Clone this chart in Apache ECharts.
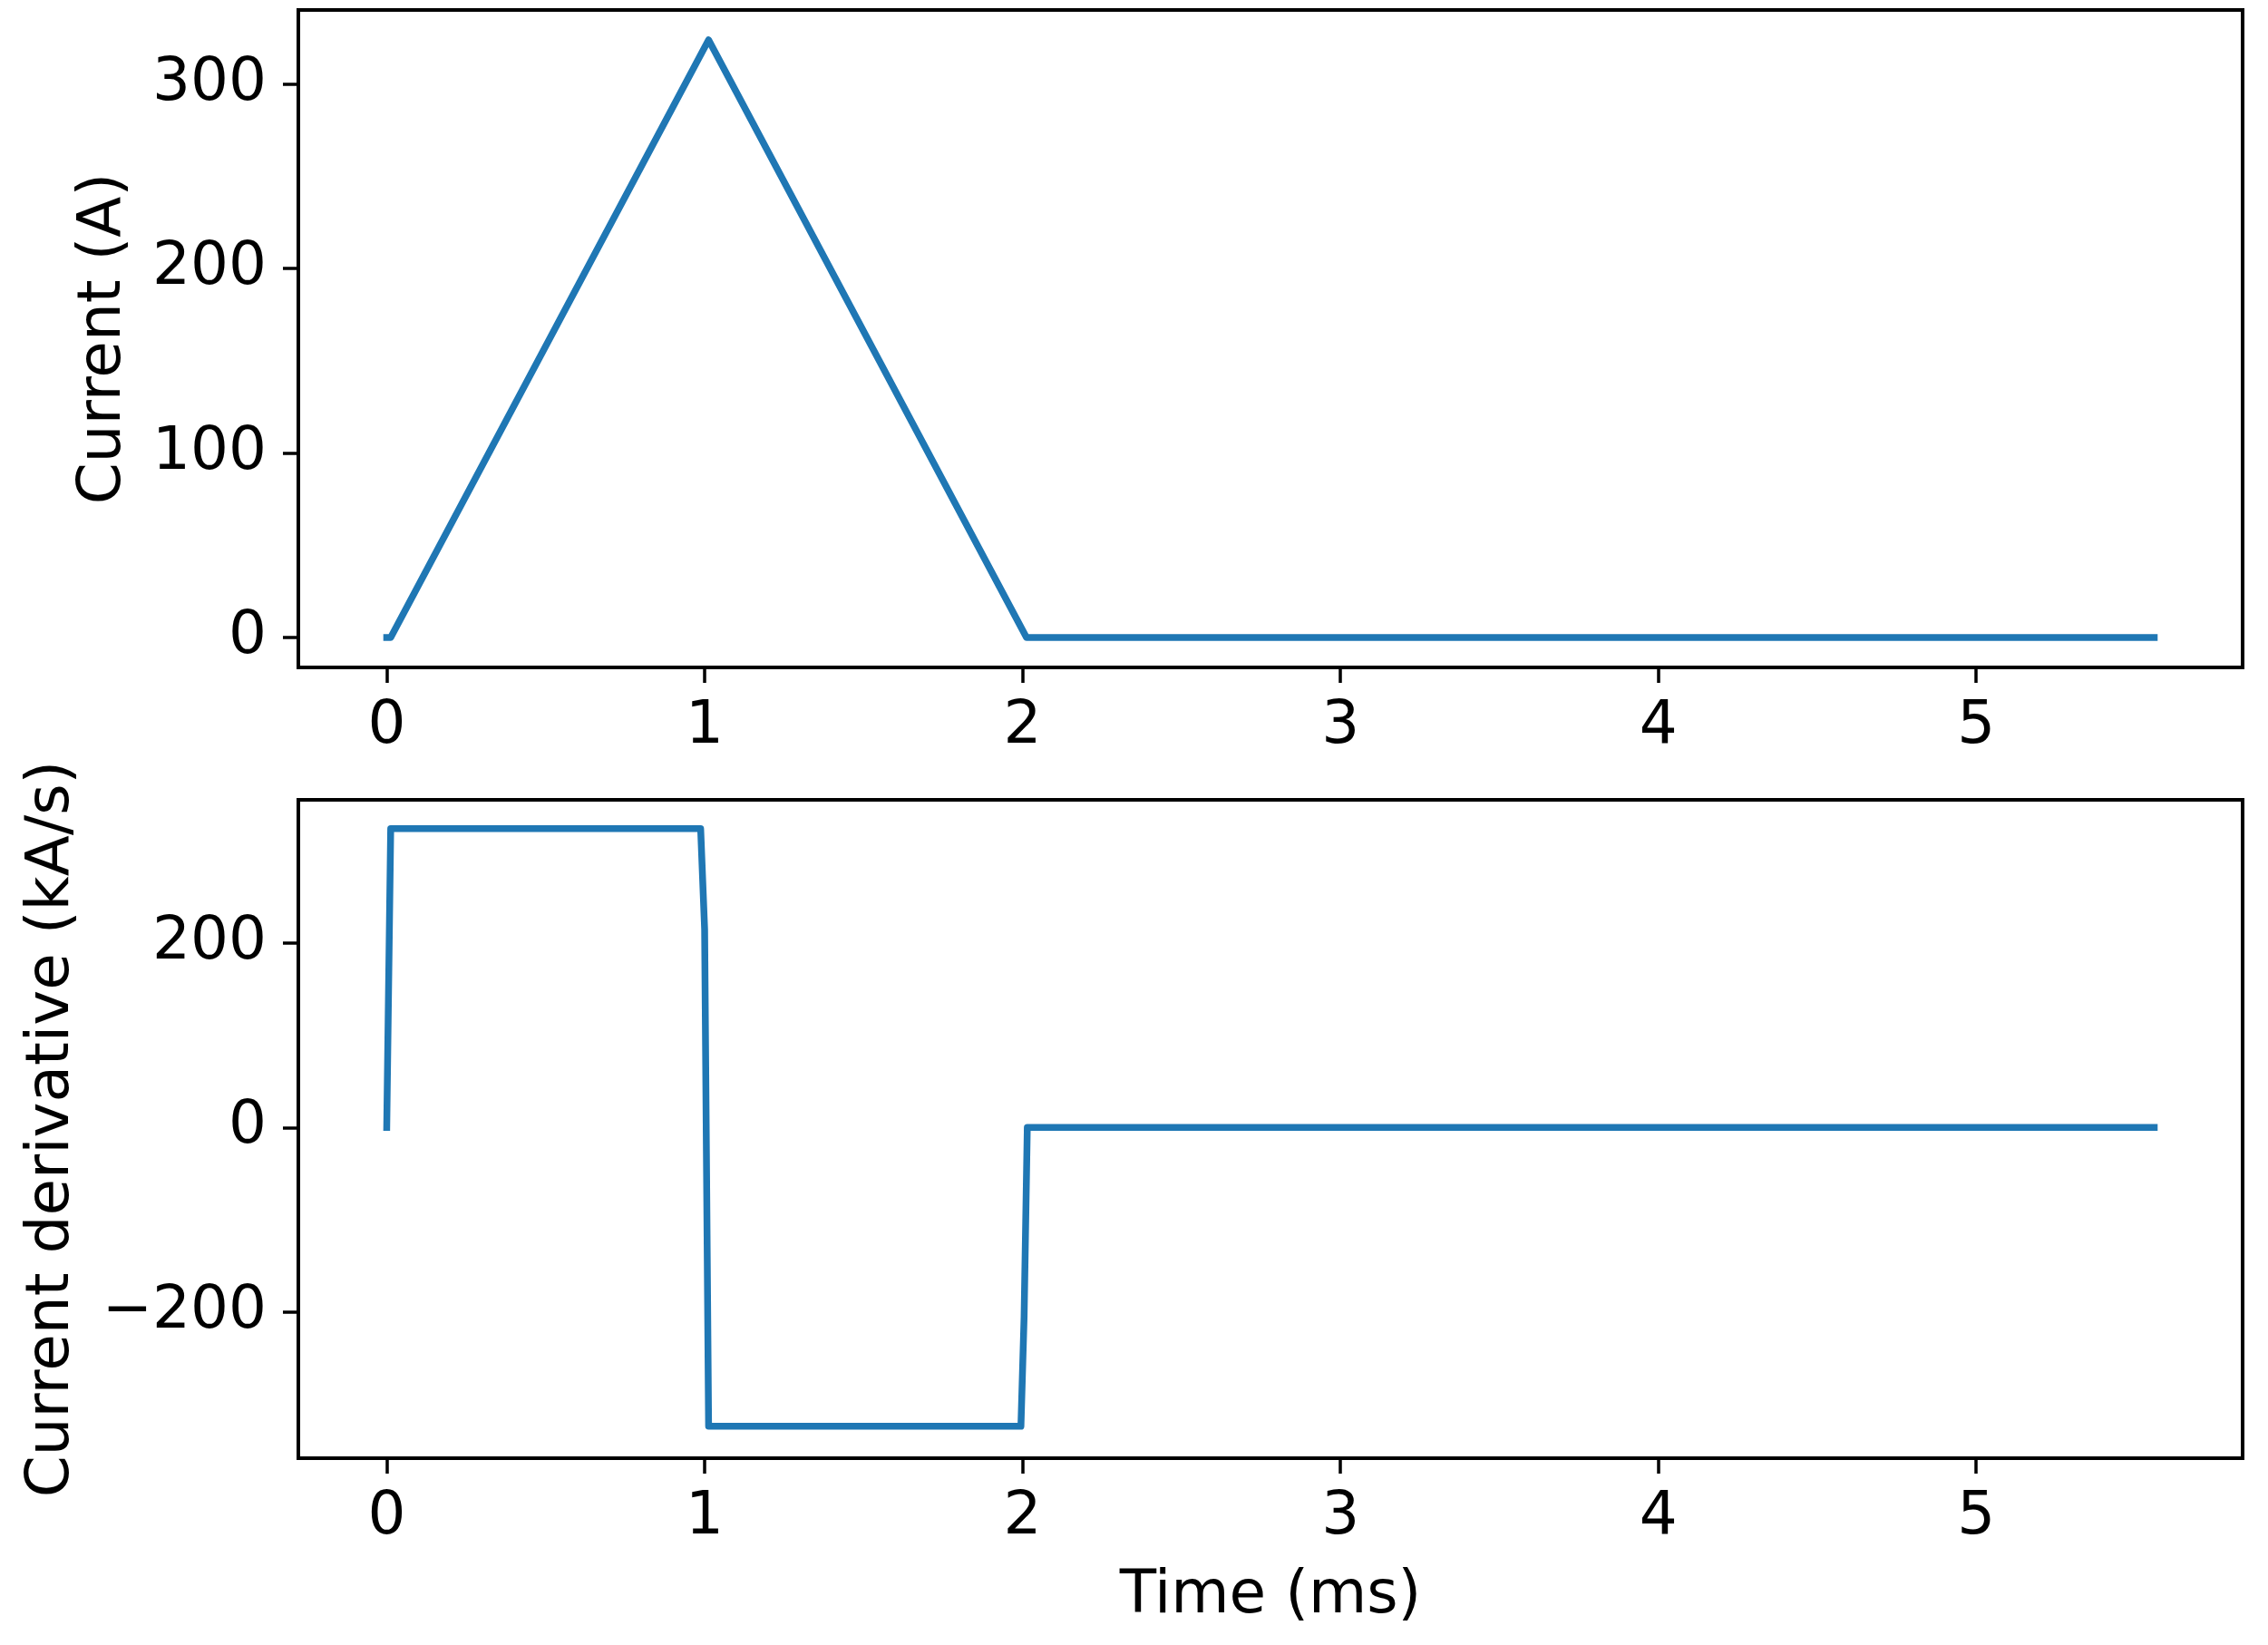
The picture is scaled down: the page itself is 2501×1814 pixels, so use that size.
<!DOCTYPE html>
<html>
<head>
<meta charset="utf-8">
<script src="https://cdn.jsdelivr.net/npm/echarts@6/dist/echarts.min.js"></script>
<style>
    html, body { margin: 0; padding: 0; background: #fff; }
    #chart { width: 2501px; height: 1814px; }
</style>
</head>
<body>
<div id="chart"></div>
<script>
    // current pulse (A) vs time (ms)
    var timeCurrent = [0, 0.0125, 1.0125, 2.0125, 5.56];
    var current = [0, 0, 324, 0, 0];

    // derivative (kA/s) vs time (ms)
    var timeDeriv = [0, 0.0125, 0.9875, 1.0, 1.0125, 1.995, 2.005, 2.015, 5.56];
    var deriv = [0, 324, 324, 215, -324, -324, -205, 0, 0];

    var xTicks = [0, 1, 2, 3, 4, 5];
    var yTicksCurrent = [0, 100, 200, 300];
    var yTicksDeriv = [-200, 0, 200];

    function pairs(xs, ys) {
        return xs.map(function (x, i) { return [x, ys[i]]; });
    }

    var FONT = 'DejaVu Sans';
    var BLUE = '#1f77b4';

    function xAxis(idx, name) {
        return {
            type: 'value', gridIndex: idx, min: -0.278, max: 5.838,
            name: name || '', nameLocation: 'middle', nameGap: 120,
            nameTextStyle: { fontFamily: FONT, fontSize: 66, color: '#000' },
            axisLine: { show: true, onZero: false, lineStyle: { color: '#000', width: 4 } },
            axisTick: { show: true, inside: false, length: 17, customValues: xTicks,
                lineStyle: { color: '#000', width: 3.5 } },
            axisLabel: { show: true, customValues: xTicks, margin: 33,
                fontFamily: FONT, fontSize: 66, color: '#000' },
            splitLine: { show: false }
        };
    }

    function yAxis(idx, name, min, max, ticks, gap) {
        return {
            type: 'value', gridIndex: idx, min: min, max: max,
            name: name, nameLocation: 'middle', nameGap: gap, nameRotate: 90,
            nameTextStyle: { fontFamily: FONT, fontSize: 66, color: '#000' },
            axisLine: { show: true, onZero: false, lineStyle: { color: '#000', width: 4 } },
            axisTick: { show: true, inside: false, length: 17, customValues: ticks,
                lineStyle: { color: '#000', width: 3.5 } },
            axisLabel: { show: true, customValues: ticks, margin: 35,
                fontFamily: FONT, fontSize: 66, color: '#000',
                formatter: function (v) { return String(v).replace('-', '\u2212'); } },
            splitLine: { show: false }
        };
    }

    var chart = echarts.init(document.getElementById('chart'));
    chart.setOption({
        animation: false,
        backgroundColor: '#fff',
        grid: [
            { left: 329, right: 28, top: 11, height: 725, show: true,
              borderColor: '#000', borderWidth: 4, backgroundColor: 'transparent' },
            { left: 329, right: 28, top: 882, height: 726, show: true,
              borderColor: '#000', borderWidth: 4, backgroundColor: 'transparent' }
        ],
        xAxis: [xAxis(0), xAxis(1, 'Time (ms)')],
        yAxis: [
            yAxis(0, 'Current (A)', -16.2, 340.2, yTicksCurrent, 181),
            yAxis(1, 'Current derivative (kA/s)', -358.6, 355.3, yTicksDeriv, 238)
        ],
        series: [
            {
                type: 'line', xAxisIndex: 0, yAxisIndex: 0,
                data: pairs(timeCurrent, current),
                showSymbol: false,
                lineStyle: { color: BLUE, width: 7.5, join: 'round', cap: 'square' }
            },
            {
                type: 'line', xAxisIndex: 1, yAxisIndex: 1,
                data: pairs(timeDeriv, deriv),
                showSymbol: false,
                lineStyle: { color: BLUE, width: 7.5, join: 'round', cap: 'square' }
            }
        ]
    });
</script>
</body>
</html>
